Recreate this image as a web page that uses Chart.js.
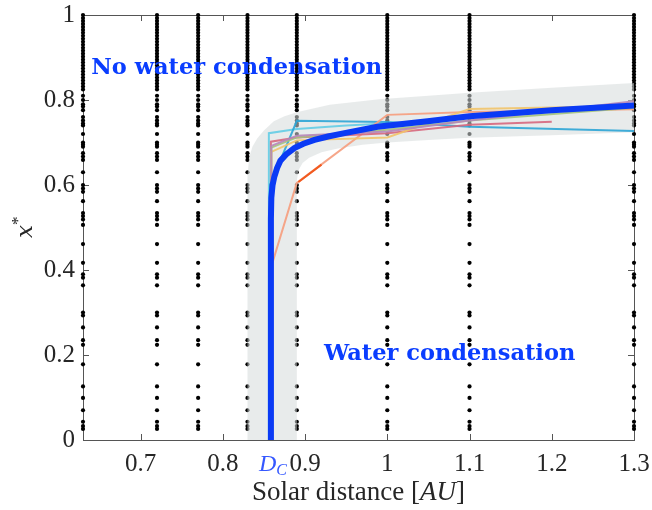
<!DOCTYPE html>
<html lang="en">
<head>
<meta charset="UTF-8">
<title>Water condensation boundary</title>
<script src="https://cdn.jsdelivr.net/npm/chart.js@4.4.1/dist/chart.umd.min.js"></script>
<style>
  html, body { margin: 0; padding: 0; background: #fff; }
  #wrap { width: 652px; height: 510px; }
</style>
</head>
<body>
<div id="wrap"><canvas id="chart"></canvas></div>
<script>
const xTicks = [0.7, 0.8, 0.9, 1, 1.1, 1.2, 1.3];
const xTickLabels = ['0.7', '0.8', '0.9', '1', '1.1', '1.2', '1.3'];
const yTicks = [0, 0.2, 0.4, 0.6, 0.8, 1];
const yTickLabels = ['0', '0.2', '0.4', '0.6', '0.8', '1'];

// simulated distances and the x* levels sampled at each of them
const sampleDistances = [0.63, 0.72, 0.77, 0.83, 0.89, 1.0, 1.1, 1.3];
const sampleLevels = [
  1.0, 0.993, 0.986, 0.979, 0.972, 0.965, 0.958, 0.951, 0.944, 0.937, 0.93, 0.923,
  0.916, 0.909, 0.902, 0.895, 0.888, 0.881, 0.874, 0.867, 0.86, 0.853, 0.846, 0.839,
  0.832, 0.825, 0.81, 0.8, 0.79, 0.785, 0.776, 0.76, 0.752, 0.745, 0.74, 0.72,
  0.70, 0.695, 0.69, 0.675, 0.667, 0.659, 0.63, 0.60, 0.592, 0.584, 0.562, 0.534,
  0.527, 0.519, 0.506, 0.461, 0.417, 0.39, 0.382, 0.364, 0.30, 0.293, 0.265, 0.235,
  0.224, 0.178, 0.126, 0.099, 0.07, 0.043, 0.033, 0.026
];

// uncertainty band outline (upper edge left->right, then lower edge right->left)
const bandX = [0.83, 0.83, 0.832, 0.836, 0.842, 0.85, 0.862, 0.875, 0.891, 0.93, 0.99, 1.05, 1.1, 1.2, 1.3,
  1.3, 1.2, 1.1, 1.05, 1.0, 0.97, 0.94, 0.92, 0.905, 0.897, 0.892, 0.89, 0.89];
const bandY = [0, 0.62, 0.665, 0.69, 0.71, 0.728, 0.75, 0.762, 0.772, 0.789, 0.802, 0.81, 0.817, 0.829, 0.84,
  0.724, 0.717, 0.711, 0.706, 0.70, 0.695, 0.686, 0.677, 0.664, 0.652, 0.635, 0.61, 0];

// fitted boundary
const fitX = [0.8585, 0.8585, 0.859, 0.8605, 0.8626, 0.866, 0.87, 0.877, 0.887, 0.898, 0.9115, 0.928, 0.948, 0.988, 1.049, 1.1, 1.2, 1.3];
const fitY = [0, 0.52, 0.57, 0.6, 0.619, 0.64, 0.657, 0.672, 0.687, 0.697, 0.706, 0.714, 0.722, 0.737, 0.75, 0.762, 0.776, 0.787];

// individual runs [distance, x*]
const runCyan = [[0.856, 0], [0.856, 0.722], [0.89, 0.732], [0.95, 0.74], [1.0, 0.745]];
const runTeal = [[0.8575, 0], [0.8575, 0.6], [0.89, 0.751], [1.0, 0.748], [1.1, 0.737], [1.3, 0.727]];
const runRose = [[0.8585, 0], [0.8585, 0.702], [0.89, 0.712], [1.0, 0.722], [1.1, 0.742], [1.2, 0.749]];
const runSalmon = [[0.86, 0], [0.86, 0.415], [0.89, 0.605], [1.0, 0.765], [1.1, 0.772], [1.3, 0.778]];
const runFlame = [[0.892, 0.607], [0.92, 0.648]];
const runGold = [[0.859, 0], [0.859, 0.678], [0.89, 0.705], [1.0, 0.712], [1.1, 0.779], [1.3, 0.786]];
const runSage = [[0.859, 0], [0.859, 0.688], [0.89, 0.712], [1.0, 0.73], [1.1, 0.752], [1.3, 0.782]];
const runMauve = [[0.859, 0], [0.859, 0.692], [0.89, 0.716], [1.0, 0.726], [1.1, 0.752], [1.3, 0.797]];

const toPts = arr => arr.map(([x, y]) => ({ x, y }));
const zip = (xs, ys) => xs.map((x, i) => ({ x, y: ys[i] }));

const dots = [];
sampleDistances.forEach(d => sampleLevels.forEach(l => dots.push({ x: d, y: l })));

const run = (pts, color) => ({
  data: toPts(pts),
  showLine: true,
  borderColor: color,
  borderWidth: 2,
  pointRadius: 0,
  tension: 0,
  order: 1,
  clip: false
});

const SERIF = '"Liberation Serif", "DejaVu Serif", serif';
const INK = '#262626';

const frame = {
  id: 'frame',
  beforeDatasetsDraw(chart) {
    const { ctx, chartArea: a, scales: { x, y } } = chart;
    ctx.save();
    ctx.strokeStyle = '#555';
    ctx.lineWidth = 1;
    ctx.strokeRect(Math.round(a.left) + 0.5, Math.round(a.top) + 0.5,
      Math.round(a.right - a.left), Math.round(a.bottom - a.top));
    ctx.beginPath();
    xTicks.forEach(v => {
      const p = Math.round(x.getPixelForValue(v)) + 0.5;
      ctx.moveTo(p, a.bottom); ctx.lineTo(p, a.bottom - 6);
      ctx.moveTo(p, a.top); ctx.lineTo(p, a.top + 6);
    });
    yTicks.forEach(v => {
      const p = Math.round(y.getPixelForValue(v)) + 0.5;
      ctx.moveTo(a.left, p); ctx.lineTo(a.left + 6, p);
      ctx.moveTo(a.right, p); ctx.lineTo(a.right - 6, p);
    });
    ctx.stroke();
    ctx.restore();
  },
  afterDatasetsDraw(chart) {
    const { ctx, chartArea: a, scales: { x, y } } = chart;
    ctx.save();
    ctx.fillStyle = '#0a3dff';
    ctx.font = 'bold 22.5px "DejaVu Serif", serif';
    ctx.textBaseline = 'alphabetic';
    ctx.fillText('No water condensation', x.getPixelForValue(0.64), y.getPixelForValue(0.861));
    ctx.fillText('Water condensation', x.getPixelForValue(0.923), y.getPixelForValue(0.188));

    // D_C marker under the vertical part of the fit
    const dx = x.getPixelForValue(fitX[0]) + 2;
    ctx.fillStyle = '#3558ff';
    ctx.font = 'italic 24px ' + SERIF;
    const dw = ctx.measureText('D').width;
    ctx.font = 'italic 16px ' + SERIF;
    const cw = ctx.measureText('C').width;
    const left = dx - (dw + cw) / 2;
    ctx.font = 'italic 24px ' + SERIF;
    ctx.fillText('D', left, a.bottom + 31);
    ctx.font = 'italic 16px ' + SERIF;
    ctx.fillText('C', left + dw, a.bottom + 35);

    // axis titles
    ctx.fillStyle = INK;
    const parts = [['Solar distance [', '27px '], ['AU', 'italic 27px '], [']', '27px ']];
    let total = 0;
    parts.forEach(([t, f]) => { ctx.font = f + SERIF; total += ctx.measureText(t).width; });
    let tx = (a.left + a.right) / 2 - total / 2;
    parts.forEach(([t, f]) => {
      ctx.font = f + SERIF;
      ctx.fillText(t, tx, 500);
      tx += ctx.measureText(t).width;
    });

    ctx.translate(32, (a.top + a.bottom) / 2);
    ctx.rotate(-Math.PI / 2);
    ctx.font = 'italic 23px "DejaVu Serif", serif';
    const xw = ctx.measureText('x').width;
    ctx.fillText('x', -xw / 2 - 4, 0);
    ctx.font = '17px ' + SERIF;
    ctx.fillText('*', xw / 2 - 4, -9);
    ctx.restore();
  }
};

new Chart(document.getElementById('chart'), {
  type: 'scatter',
  data: {
    datasets: [
      {
        data: zip(fitX, fitY),
        showLine: true,
        borderColor: '#0a3af5',
        borderWidth: 6,
        pointRadius: 0,
        tension: 0,
        order: 0,
        clip: false
      },
      run(runMauve, 'rgba(183,134,184,0.9)'),
      run(runSage, 'rgba(165,196,125,0.9)'),
      run(runGold, 'rgba(242,196,106,0.9)'),
      run(runRose, 'rgba(215,104,126,0.9)'),
      run(runFlame, '#f25a1f'),
      run(runSalmon, 'rgba(245,161,131,0.95)'),
      run(runTeal, 'rgba(45,165,214,0.9)'),
      run(runCyan, 'rgba(100,205,230,0.9)'),
      {
        data: zip(bandX, bandY),
        showLine: true,
        borderWidth: 0,
        borderColor: 'rgba(0,0,0,0)',
        backgroundColor: 'rgba(214,218,218,0.55)',
        fill: 'shape',
        pointRadius: 0,
        tension: 0,
        order: 2
      },
      {
        data: dots,
        backgroundColor: '#000',
        borderWidth: 0,
        pointRadius: 2.1,
        order: 3,
        clip: false
      }
    ]
  },
  options: {
    responsive: true,
    maintainAspectRatio: false,
    animation: false,
    events: [],
    layout: { padding: { left: 0, right: 18, top: 15, bottom: 0 } },
    plugins: { legend: { display: false }, tooltip: { enabled: false } },
    scales: {
      x: {
        type: 'linear',
        min: 0.63,
        max: 1.3,
        border: { display: false },
        grid: { display: false, drawTicks: false },
        afterBuildTicks: s => { s.ticks = xTicks.map(v => ({ value: v })); },
        afterFit: s => { s.height = 70; s.paddingLeft = 0; s.paddingRight = 0; },
        ticks: {
          autoSkip: false,
          maxRotation: 0,
          padding: 9,
          color: INK,
          font: { family: SERIF, size: 25 },
          callback: (v, i) => xTickLabels[i]
        }
      },
      y: {
        type: 'linear',
        min: 0,
        max: 1,
        border: { display: false },
        grid: { display: false, drawTicks: false },
        afterBuildTicks: s => { s.ticks = yTicks.map(v => ({ value: v })); },
        afterFit: s => { s.width = 83; s.paddingTop = 0; s.paddingBottom = 0; },
        ticks: {
          padding: 8,
          color: INK,
          font: { family: SERIF, size: 25 },
          callback: (v, i) => yTickLabels[i]
        }
      }
    }
  },
  plugins: [frame]
});
</script>
</body>
</html>
